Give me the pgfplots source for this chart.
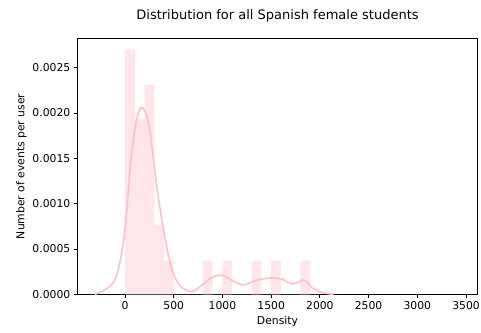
\documentclass[border=0pt]{standalone}
\usepackage{pgfplots}
\pgfplotsset{compat=1.18}
\usepackage{fontspec}
\setmainfont{DejaVu Sans}
\definecolor{barpink}{RGB}{255,230,234}
\definecolor{linepink}{RGB}{255,192,203}
\begin{document}
\begin{tikzpicture}
\useasboundingbox (-77.3pt,-38.3pt) rectangle (403.7pt,294.3pt);
\begin{axis}[
  at={(0pt,0pt)}, anchor=south west,
  scale only axis,
  width=400.4pt, height=256pt,
  xmin=-490, xmax=3620, ymin=0, ymax=0.002823,
  xtick={0,500,1000,1500,2000,2500,3000,3500},
  ytick={0,0.0005,0.0010,0.0015,0.0020,0.0025},
  scaled ticks=false,
  tick pos=left, tick align=outside,
  major tick length=3.5pt,
  axis line style={line width=0.8pt},
  every tick/.style={black, line width=0.8pt},
  tick label style={font=\fontsize{10.8}{13}\selectfont},
  /pgf/number format/assume math mode=true,
  /pgf/number format/1000 sep={},
  yticklabel style={/pgf/number format/fixed, /pgf/number format/fixed zerofill, /pgf/number format/precision=4},
  title={Distribution for all Spanish female students},
  title style={font=\fontsize{13}{15}\selectfont, at={(0.5,1)}, anchor=south, yshift=7pt},
  xlabel={Density},
  ylabel={Number of events per user},
  label style={font=\fontsize{10.8}{13}\selectfont},
  xlabel style={yshift=0pt},
  ylabel style={yshift=-1pt},
]
\addplot[ybar interval, fill=barpink, draw=none] coordinates {
(0,0.002698) (100,0.001934) (200,0.002309) (300,0.000765) (400,0.000372)
(500,0) (600,0) (700,0) (800,0.000372) (900,0) (1000,0.000372) (1100,0)
(1200,0) (1300,0.000372) (1400,0) (1500,0.000372) (1600,0) (1700,0)
(1800,0.000372) (1900,0) (2000,0)
};
\addplot[smooth, linepink, line width=1.6pt] coordinates {
(-308,0) (-220,0.00004) (-120,0.00013) (-68,0.00028) (-17,0.00057)
(20,0.00095) (51,0.00138) (85,0.00170) (120,0.00193) (164,0.00206)
(200,0.00203) (222,0.00197) (250,0.00183) (274,0.00164) (300,0.00142)
(325,0.00120) (360,0.00094) (394,0.00072) (430,0.00051) (462,0.00035)
(510,0.00019) (565,0.000096) (620,0.00005) (685,0.00003) (740,0.00006)
(804,0.000115) (870,0.00017) (941,0.000206) (990,0.00021) (1044,0.000188)
(1120,0.00014) (1215,0.000103) (1283,0.00013) (1352,0.000155) (1420,0.00017)
(1489,0.00018) (1550,0.000178) (1609,0.00017) (1660,0.00014) (1711,0.000115)
(1770,0.00013) (1831,0.000159) (1870,0.00013) (1917,0.000077) (1980,0.00004)
(2036,0.000015) (2139,0)
};
\end{axis}
\end{tikzpicture}
\end{document}
